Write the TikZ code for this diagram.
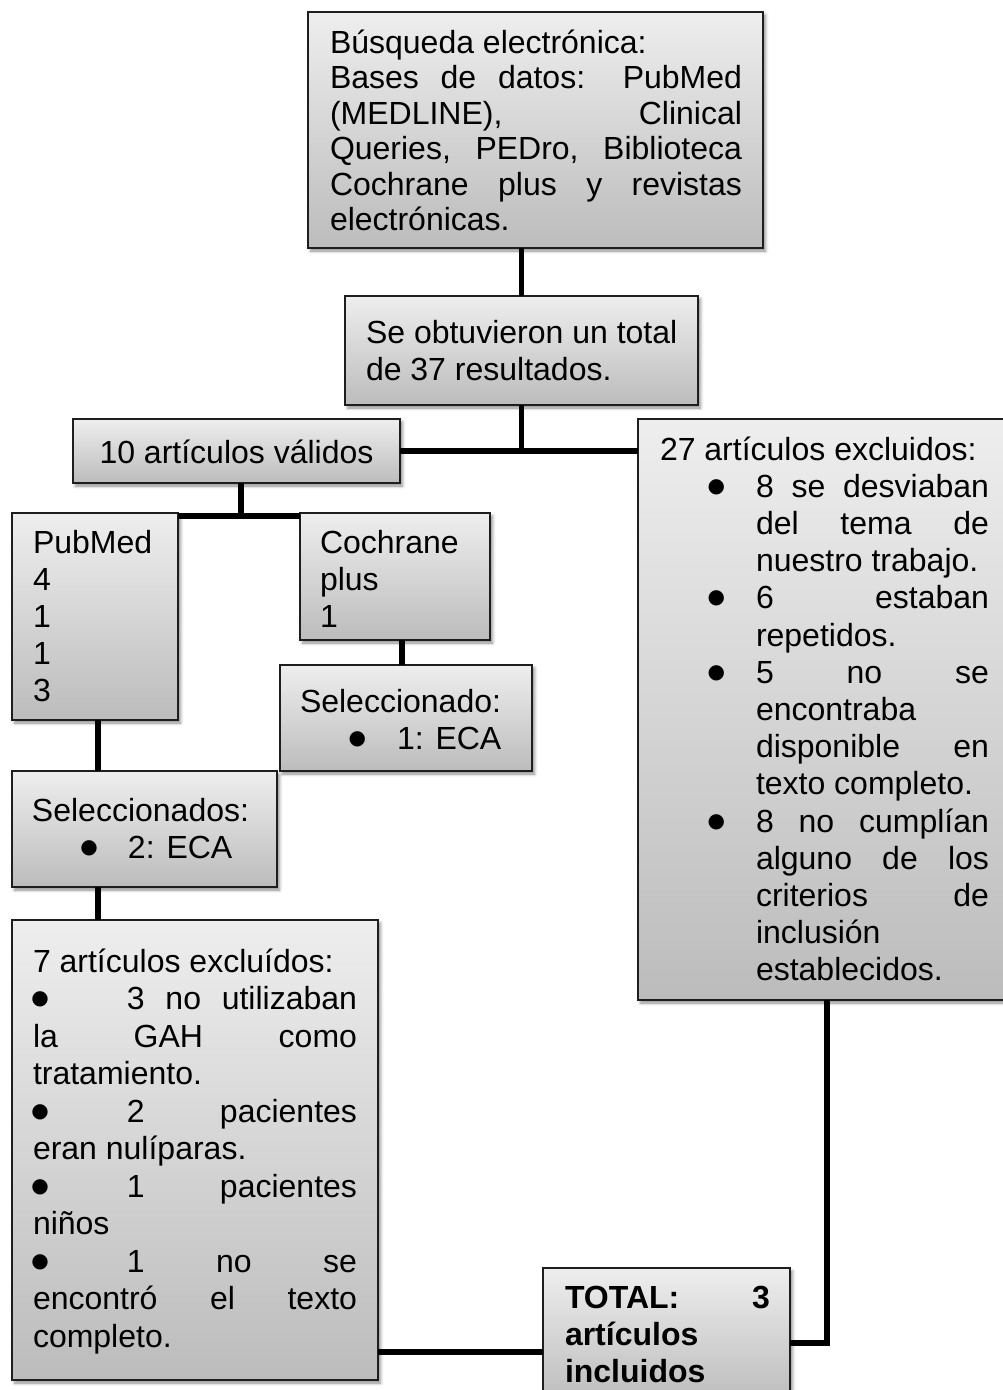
\documentclass[tikz,border=0pt]{standalone}
\usepackage{fontspec}
\setmainfont{Liberation Sans}
\newfontfamily\dvs{DejaVu Sans}
\usetikzlibrary{shadows.blur}
\definecolor{gtop}{RGB}{238,238,238}
\definecolor{gbot}{RGB}{188,188,188}
\definecolor{edge}{RGB}{30,30,30}
% one text line, placed #1 pt from the box's left edge
\newcommand\Ln[2]{\hbox to\hsize{\hskip#1pt\vrule height30pt depth0pt width0pt\relax#2\hss}}
% justified line of width #1
\newcommand\J[2]{\makebox[#1pt][s]{#2}}
% box text: width, height, baselineskip, first baseline, lines
\newcommand\BT[5]{\vbox to#2pt{\hsize=#1pt\baselineskip=#3pt\lineskiplimit=-1000pt\lineskip=0pt\vskip\dimexpr#4pt-30pt\relax#5\vfil}}
\newcommand\Bl[1]{\makebox[#1pt][l]{\hspace*{-1.5pt}\raisebox{5pt}{\dvs\fontsize{20pt}{20pt}\selectfont ●}}}
\tikzset{
  box/.style={draw=edge, line width=1.3pt, top color=gtop, bottom color=gbot,
    inner sep=0pt, outer sep=0pt, anchor=north west,
    blur shadow={shadow xshift=2.5pt, shadow yshift=-3pt, shadow blur radius=3pt, shadow opacity=45},
    font=\fontsize{32pt}{37pt}\selectfont},
  conn/.style={line width=5.5pt, black},
}
\begin{document}
\begin{tikzpicture}[x=1pt,y=-1pt]
\useasboundingbox (0,0) rectangle (1003,1390);

\node[box] (b1) at (308,12) {\BT{455}{236}{35.5}{41}{%
  \Ln{22}{Búsqueda electrónica:}%
  \Ln{22}{\J{412}{Bases de datos: PubMed}}%
  \Ln{22}{\J{412}{(MEDLINE), Clinical}}%
  \Ln{22}{\J{412}{Queries, PEDro, Biblioteca}}%
  \Ln{22}{\J{412}{Cochrane plus y revistas}}%
  \Ln{22}{electrónicas.}}};

\node[box] (b2) at (345,296) {\BT{353}{109}{37}{47}{%
  \Ln{21}{Se obtuvieron un total}%
  \Ln{21}{de 37 resultados.}}};

\node[box] (b3) at (73,419) {\BT{327}{64}{37}{44}{%
  \hbox to\hsize{\hss\vrule height30pt depth0pt width0pt\relax 10 artículos válidos\hss}}};

\node[box] (b4) at (638,419) {\BT{368}{581}{37.2}{41}{%
  \Ln{22}{27 artículos excluidos:}%
  \Ln{71}{\Bl{47}\J{233}{8 se desviaban}}%
  \Ln{118}{\J{233}{del tema de}}%
  \Ln{118}{nuestro trabajo.}%
  \Ln{71}{\Bl{47}\J{233}{6 estaban}}%
  \Ln{118}{repetidos.}%
  \Ln{71}{\Bl{47}\J{233}{5 no se}}%
  \Ln{118}{encontraba}%
  \Ln{118}{\J{233}{disponible en}}%
  \Ln{118}{texto completo.}%
  \Ln{71}{\Bl{47}\J{233}{8 no cumplían}}%
  \Ln{118}{\J{233}{alguno de los}}%
  \Ln{118}{\J{233}{criterios de}}%
  \Ln{118}{inclusión}%
  \Ln{118}{establecidos.}}};

\node[box] (b5) at (12,513) {\BT{166}{207}{37}{40}{%
  \Ln{21}{PubMed}\Ln{21}{4}\Ln{21}{1}\Ln{21}{1}\Ln{21}{3}}};

\node[box] (b6) at (300,513) {\BT{190}{127}{37}{40}{%
  \Ln{20}{Cochrane}\Ln{20}{plus}\Ln{20}{1}}};

\node[box] (b7) at (280,665) {\BT{252}{106}{37}{47}{%
  \Ln{20}{Seleccionado:}%
  \Ln{70}{\Bl{47}1: ECA}}};

\node[box] (b8) at (12,771) {\BT{265}{116}{37}{50}{%
  \Ln{20}{Seleccionados:}%
  \Ln{70}{\Bl{46}2: ECA}}};

\node[box] (b9) at (12,920) {\BT{366}{460}{37.5}{52}{%
  \Ln{21}{7 artículos excluídos:}%
  \Ln{21}{\Bl{94}\J{230}{3 no utilizaban}}%
  \Ln{21}{\J{324}{la GAH como}}%
  \Ln{21}{tratamiento.}%
  \Ln{21}{\Bl{94}\J{230}{2 pacientes}}%
  \Ln{21}{eran nulíparas.}%
  \Ln{21}{\Bl{94}\J{230}{1 pacientes}}%
  \Ln{21}{niños}%
  \Ln{21}{\Bl{94}\J{230}{1 no se}}%
  \Ln{21}{\J{324}{encontró el texto}}%
  \Ln{21}{completo.}}};

\node[box] (b10) at (543,1268) {\BT{247}{135}{37}{40}{\bfseries
  \Ln{22}{\J{205}{TOTAL: 3}}%
  \Ln{22}{artículos}%
  \Ln{22}{incluidos}}};

\coordinate (j3) at (241,516);
\coordinate (k7) at (0,1352);
\coordinate (k8) at (827,1343);

\draw[conn] (b2.north) -- (b2.north |- b1.south);
\draw[conn] (b2.south) -- (b2.south |- b3.east);
\draw[conn] (b3.east) -- (b4.west |- b3.east);
\draw[conn] (b3.south -| j3) -- (j3);
\draw[conn] (b5.east |- j3) -- (b6.west |- j3);
\draw[conn] ([xshift=-4pt]b7.north) -- ([xshift=-4pt]b7.north |- b6.south);
\draw[conn] ([xshift=3pt]b5.south) -- ([xshift=3pt]b5.south |- b8.north);
\draw[conn] ([xshift=3pt]b5.south |- b8.south) -- ([xshift=3pt]b5.south |- b9.north);
\draw[conn] (b9.east |- k7) -- (b10.west |- k7);
\draw[conn] (b10.east |- k8) -- (k8) -- (k8 |- b4.south);
\end{tikzpicture}
\end{document}
